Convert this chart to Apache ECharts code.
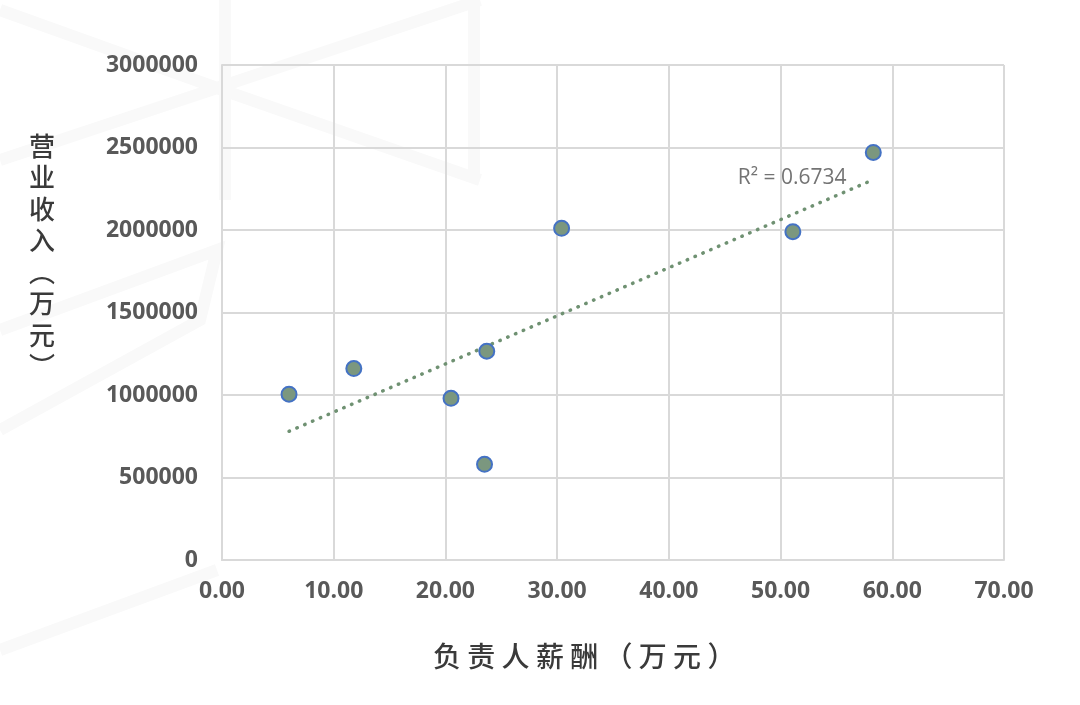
<!DOCTYPE html>
<html>
<head>
<meta charset="utf-8">
<script src="https://cdn.jsdelivr.net/npm/echarts@6/dist/echarts.min.js"></script>
<style>
html,body{margin:0;padding:0;background:#fff;}
#chart{width:1080px;height:705px;}
</style>
</head>
<body>
<div id="chart"></div>
<script>
// Data
const salary = [6.0, 11.8, 20.5, 23.7, 23.5, 30.4, 51.1, 58.3];           // 负责人薪酬（万元）
const revenue = [1005000, 1160000, 980000, 1265000, 580000, 2010000, 1990000, 2470000]; // 营业收入（万元）
const trendX = [6.0, 58.3];
const trendY = [780000, 2305000];
const r2Label = 'R² = 0.6734';
const r2Pos = [56.0, 2315000];
const xTitle = '负责人薪酬（万元）';
const yTitleChars = ['营', '业', '收', '入', '︵', '万', '元', '︶'];

const chart = echarts.init(document.getElementById('chart'), null, {renderer: 'canvas'});
const grey = '#595959';
const gridColor = '#d9d9d9';
const wm = '#f9f9f9';

chart.setOption({
  animation: false,
  backgroundColor: '#ffffff',
  graphic: [
    {type: 'polyline', silent: true, z: -10, shape: {points: [[0, 10], [217, 88], [480, 0]]}, style: {stroke: wm, lineWidth: 12, fill: null}},
    {type: 'polyline', silent: true, z: -10, shape: {points: [[0, 160], [217, 88], [480, 180]]}, style: {stroke: wm, lineWidth: 12, fill: null}},
    {type: 'line', silent: true, z: -10, shape: {x1: 225, y1: 0, x2: 225, y2: 200}, style: {stroke: wm, lineWidth: 12}},
    {type: 'line', silent: true, z: -10, shape: {x1: 474, y1: 0, x2: 474, y2: 180}, style: {stroke: wm, lineWidth: 12}},
    {type: 'polyline', silent: true, z: -10, shape: {points: [[0, 330], [217, 250], [200, 320], [0, 430]]}, style: {stroke: wm, lineWidth: 12, fill: null}},
    {type: 'polyline', silent: true, z: -10, shape: {points: [[0, 650], [217, 570]]}, style: {stroke: wm, lineWidth: 12, fill: null}},
    {
      type: 'text', left: 29, top: 130, silent: true,
      style: {text: yTitleChars.join('\n'), font: '500 26px "Noto Sans CJK SC"', fill: '#3a3a3a', lineHeight: 31.5, align: 'center'}
    },
    {
      type: 'text', left: 433, top: 642, silent: true,
      style: {text: xTitle.split('').join(' '), font: '500 28px "Noto Sans CJK SC"', fill: '#3a3a3a'}
    }
  ],
  grid: {left: 222, right: 76, top: 65, bottom: 145, containLabel: false},
  xAxis: {
    type: 'value', min: 0, max: 70, interval: 10,
    axisLine: {show: true, onZero: false, lineStyle: {color: gridColor, width: 2}},
    axisTick: {show: false},
    splitLine: {show: true, lineStyle: {color: gridColor, width: 2}},
    axisLabel: {
      color: grey, fontFamily: 'Open Sans', fontWeight: 'bold', fontSize: 23, margin: 20,
      formatter: v => v.toFixed(2)
    }
  },
  yAxis: {
    type: 'value', min: 0, max: 3000000, interval: 500000,
    axisLine: {show: true, lineStyle: {color: gridColor, width: 2}},
    axisTick: {show: false},
    splitLine: {show: true, lineStyle: {color: gridColor, width: 2}},
    axisLabel: {color: grey, fontFamily: 'Open Sans', fontWeight: 'bold', fontSize: 23, margin: 24, formatter: v => String(v)}
  },
  series: [
    {
      type: 'line',
      data: trendX.map((x, i) => [x, trendY[i]]),
      showSymbol: false, symbol: 'none',
      lineStyle: {color: '#6f9172', width: 3.5, type: [0.5, 8], cap: 'round'},
      z: 2
    },
    {
      type: 'scatter',
      data: salary.map((x, i) => [x, revenue[i]]),
      symbolSize: 15,
      itemStyle: {color: '#7b977f', borderColor: '#4472c4', borderWidth: 2, opacity: 1},
      z: 3
    },
    {
      type: 'scatter',
      data: [r2Pos],
      symbolSize: 2,
      itemStyle: {color: 'rgba(0,0,0,0)'},
      silent: true,
      label: {show: true, position: 'left', distance: 0, formatter: r2Label, color: '#505050', fontFamily: 'Open Sans', fontSize: 21},
      z: 4
    }
  ]
});
</script>
</body>
</html>
